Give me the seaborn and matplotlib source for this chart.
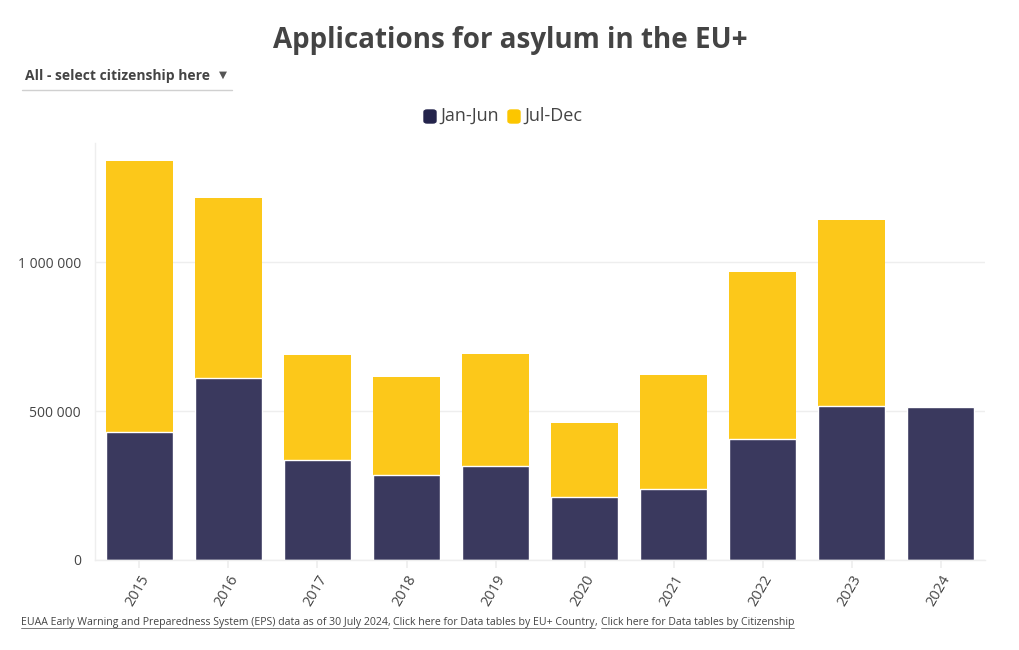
import seaborn as sns
import matplotlib.pyplot as plt
import matplotlib.ticker as ticker
from matplotlib.patches import FancyBboxPatch
from matplotlib.lines import Line2D
import pandas as pd

years = ["2015", "2016", "2017", "2018", "2019", "2020", "2021", "2022", "2023", "2024"]
jan_jun = [430000, 611000, 336000, 285000, 315000, 211000, 238000, 406000, 517000, 512000]
jul_dec = [909000, 604000, 352000, 329000, 376000, 249000, 383000, 560000, 624000, 0]
series_names = ["Jan-Jun", "Jul-Dec"]
series_colors = ["#3a395e", "#fcc81a"]
legend_colors = ["#23234b", "#fcc600"]

TEXT = "#444444"

sns.set_theme(style="white")
plt.rcParams['font.family'] = ['Open Sans', 'DejaVu Sans']

df = pd.DataFrame({"year": years, "h1": jan_jun, "h2": jul_dec})
df["total"] = df["h1"] + df["h2"]

fig = plt.figure(figsize=(10.2, 6.5), dpi=100)
ax = fig.add_axes([0.093, 0.1385, 0.873, 0.6415])

# stacked: full year in yellow, first half drawn over it
sns.barplot(data=df, x="year", y="total", color=series_colors[1], width=0.75,
            saturation=1, ax=ax, linewidth=0)
sns.barplot(data=df, x="year", y="h1", color=series_colors[0], width=0.75,
            saturation=1, ax=ax, edgecolor="white", linewidth=1)

ax.set_xlim(-0.5, 9.5)
ax.set_ylim(0, 1400000)
ax.set_yticks([0, 500000, 1000000])
ax.yaxis.set_major_formatter(ticker.FuncFormatter(lambda v, p: f"{int(v):,}".replace(",", " ")))
ax.grid(axis="y", color="#eeeeee", linewidth=1)
ax.set_axisbelow(True)
for side in ["top", "right"]:
    ax.spines[side].set_visible(False)
for side in ["left", "bottom"]:
    ax.spines[side].set_color("#eeeeee")
    ax.spines[side].set_linewidth(1)
ax.set_xlabel("")
ax.set_ylabel("")
ax.tick_params(axis="y", colors=TEXT, labelsize=10, length=6, color="#eeeeee", pad=4)
ax.tick_params(axis="x", colors=TEXT, labelsize=10.5, length=6, color="#eeeeee", pad=3, bottom=True)
plt.setp(ax.get_xticklabels(), rotation=60, ha="right", rotation_mode="anchor")

fig.text(0.5, 0.937, "Applications for asylum in the EU+", ha="center", va="center",
         fontsize=20, fontweight="bold", color=TEXT)

# dropdown look-alike
fig.text(25 / 1020, 1 - 76 / 650, "All - select citizenship here", ha="left", va="center",
         fontsize=10, fontweight="bold", color=TEXT)
fig.text(223 / 1020, 1 - 75 / 650, "\u25BC", ha="center", va="center", fontsize=7.5,
         color="#555555", family=["DejaVu Sans"], transform=fig.transFigure)
fig.add_artist(Line2D([22 / 1020, 232 / 1020], [1 - 89.5 / 650, 1 - 89.5 / 650],
                      color="#d0d0d0", linewidth=1))

# legend
lx = [424, 508]
for i, name in enumerate(series_names):
    fig.add_artist(FancyBboxPatch((lx[i] / 1020, 1 - 123 / 650), 12 / 1020, 13 / 650,
                                  boxstyle="round,pad=0,rounding_size=0.003",
                                  transform=fig.transFigure, color=legend_colors[i]))
    fig.text((lx[i] + 16) / 1020, 1 - 116 / 650, name, ha="left", va="center",
             fontsize=13, color=TEXT)

# source footer with underlined links
parts = [("EUAA Early Warning and Preparedness System (EPS) data as of 30 July 2024", True),
         (", ", False),
         ("Click here for Data tables by EU+ Country", True),
         (", ", False),
         ("Click here for Data tables by Citizenship", True)]
fig.canvas.draw()
renderer = fig.canvas.get_renderer()
x = 21
y = 1 - 622 / 650
for txt, under in parts:
    t = fig.text(x / 1020, y, txt, ha="left", va="center", fontsize=7.55, color=TEXT)
    bb = t.get_window_extent(renderer)
    if under:
        uy = (bb.y0 - 0.5) / 650
        fig.add_artist(Line2D([bb.x0 / 1020, bb.x1 / 1020], [uy, uy], color="#666666", linewidth=0.6))
    x = bb.x1

plt.savefig("out.png", dpi=100)
